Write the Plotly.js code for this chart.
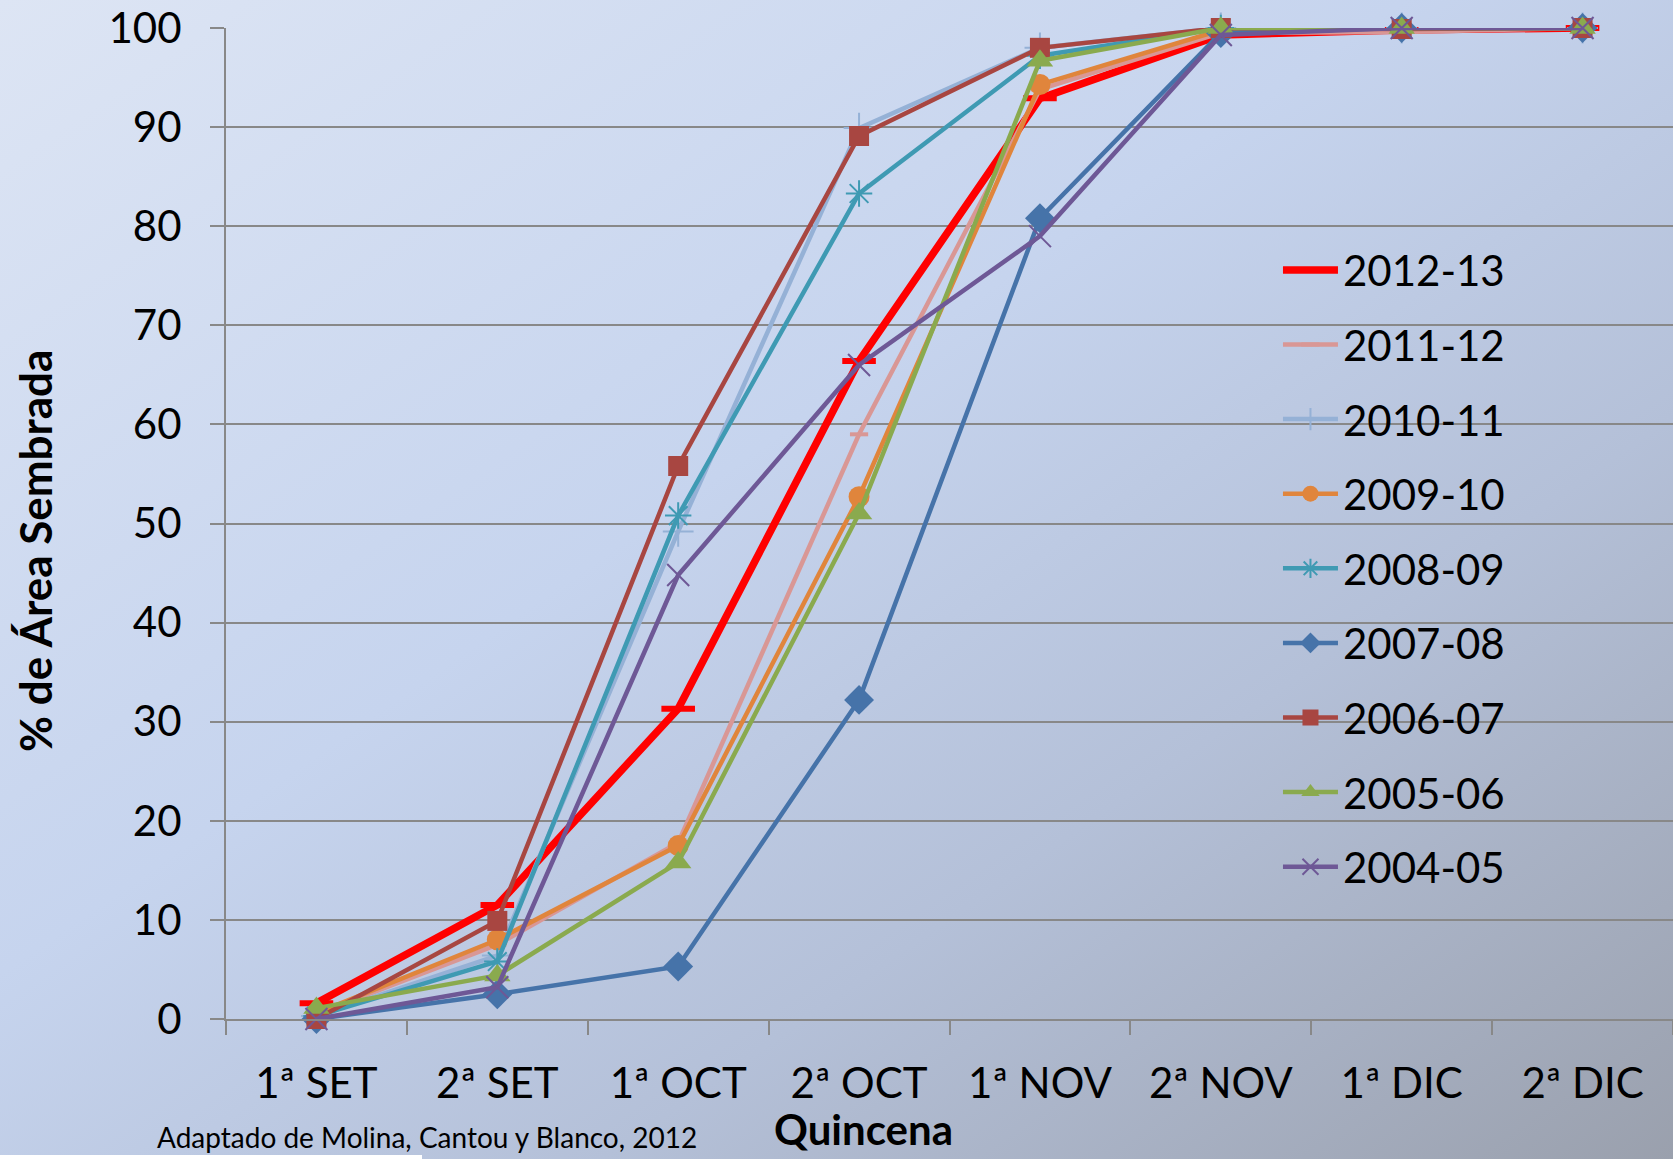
<!DOCTYPE html>
<html>
<head>
<meta charset="utf-8">
<script src="https://cdn.plot.ly/plotly-3.0.1.min.js"></script>
<style>
  html, body { margin: 0; padding: 0; }
  body {
    width: 1673px; height: 1159px; overflow: hidden; position: relative;
    background: linear-gradient(to bottom right, #dde5f4 0%, #c6d4ee 42%, #b4c0d8 68%, #9aa0ad 100%);
  }
  #chart { position: absolute; left: 0; top: 0; width: 1673px; height: 1159px; }
  #strip { position: absolute; left: 0; top: 1155px; width: 422px; height: 4px; background: #ffffff; }
</style>
</head>
<body>
<div id="chart"></div>
<div id="strip"></div>
<script>
const categories = ['1ª SET', '2ª SET', '1ª OCT', '2ª OCT', '1ª NOV', '2ª NOV', '1ª DIC', '2ª DIC'];
const seriesNames = ['2012-13', '2011-12', '2010-11', '2009-10', '2008-09', '2007-08', '2006-07', '2005-06', '2004-05'];
const s2012_13 = [1.6, 11.5, 31.3, 66.4, 92.9, 99.3, 99.8, 100];
const s2011_12 = [0.5, 7.5, 17.8, 59.0, 93.8, 99.5, 99.6, 100];
const s2010_11 = [0.3, 6.4, 49.2, 89.9, 98.0, 100, 100, 100];
const s2009_10 = [0.6, 8.0, 17.5, 52.7, 94.3, 99.8, 100, 100];
const s2008_09 = [0.3, 5.8, 50.8, 83.3, 97.2, 100, 100, 100];
const s2007_08 = [0.0, 2.5, 5.3, 32.2, 80.8, 99.5, 100, 100];
const s2006_07 = [0.0, 9.9, 55.8, 89.1, 98.0, 100, 99.9, 100];
const s2005_06 = [1.1, 4.4, 15.8, 51.0, 96.7, 100, 100, 100];
const s2004_05 = [0.0, 3.2, 44.8, 66.0, 79.0, 99.3, 100, 100];
const seriesValues = [s2012_13, s2011_12, s2010_11, s2009_10, s2008_09, s2007_08, s2006_07, s2005_06, s2004_05];

const styles = [
  {color: '#ff0000', width: 7.5, symbol: 'line-ew',        size: 24, mline: 6},
  {color: '#d99795', width: 4.5, symbol: 'line-ew',        size: 13, mline: 4},
  {color: '#95b1d6', width: 4.5, symbol: 'cross-thin',     size: 22, mline: 2},
  {color: '#e0853c', width: 4.5, symbol: 'circle',         size: 21, mline: 0},
  {color: '#3f9ab3', width: 4.5, symbol: 'asterisk',       size: 22, mline: 2},
  {color: '#4673a9', width: 4.5, symbol: 'diamond',        size: 23, mline: 0},
  {color: '#a84641', width: 4.5, symbol: 'square',         size: 20, mline: 0},
  {color: '#8aaa4e', width: 4.5, symbol: 'triangle-up',    size: 23, mline: 0},
  {color: '#6e5896', width: 4.5, symbol: 'x-thin',         size: 22, mline: 2}
];

const traces = seriesNames.map((name, i) => ({
  type: 'scatter',
  mode: 'lines+markers',
  name: name,
  legendgroup: 'g' + i,
  x: categories,
  y: seriesValues[i],
  cliponaxis: false,
  line: {color: styles[i].color, width: styles[i].width},
  marker: {
    symbol: styles[i].symbol, size: styles[i].size, color: styles[i].color,
    line: {color: styles[i].color, width: styles[i].mline}
  },
  hoverinfo: 'skip'
}));

const gridColor = '#888888';
const fontFam = 'Lato, "Open Sans", sans-serif';
const layout = {
  width: 1673, height: 1159,
  margin: {l: 226, r: 0, t: 28, b: 140},
  paper_bgcolor: 'rgba(0,0,0,0)',
  plot_bgcolor: 'rgba(0,0,0,0)',
  font: {family: fontFam, color: '#000000', size: 42},
  showlegend: true,
  legend: {
    x: 0.727, xanchor: 'left', y: 0.79, yanchor: 'top',
    bgcolor: 'rgba(0,0,0,0)', borderwidth: 0,
    font: {size: 42, family: fontFam},
    tracegroupgap: 17, traceorder: 'grouped', itemwidth: 55
  },
  xaxis: {
    type: 'category', range: [-0.5, 7.5],
    showgrid: false, zeroline: false,
    showline: true, linecolor: gridColor, linewidth: 2,
    ticks: 'outside', tickson: 'boundaries', ticklen: 14, tickcolor: gridColor, tickwidth: 2,
    ticklabelstandoff: 27,
    tickfont: {size: 42}
  },
  yaxis: {
    range: [0, 100], tickvals: [0,10,20,30,40,50,60,70,80,90,100],
    showgrid: true, gridcolor: gridColor, gridwidth: 2, zeroline: false,
    showline: true, linecolor: gridColor, linewidth: 2,
    ticks: 'outside', ticklen: 14, tickcolor: gridColor, tickwidth: 2,
    ticklabelstandoff: 20,
    tickfont: {size: 42}
  },
  annotations: [
    {text: '<b>% de Área Sembrada</b>', xref: 'paper', yref: 'paper', x: -0.1320, y: 0.4722,
     xanchor: 'center', yanchor: 'middle', textangle: -90, showarrow: false,
     font: {size: 44, family: fontFam}},
    {text: '<b>Quincena</b>', xref: 'paper', yref: 'paper', x: 0.4409, y: -0.1385,
     xanchor: 'center', yanchor: 'bottom', showarrow: false,
     font: {size: 42, family: fontFam}},
    {text: 'Adaptado de Molina, Cantou y Blanco, 2012', xref: 'paper', yref: 'paper', x: -0.049, y: -0.1385,
     xanchor: 'left', yanchor: 'bottom', showarrow: false,
     font: {size: 28, family: fontFam}}
  ]
};

Plotly.newPlot('chart', traces, layout, {displayModeBar: false, staticPlot: true});
</script>
</body>
</html>
